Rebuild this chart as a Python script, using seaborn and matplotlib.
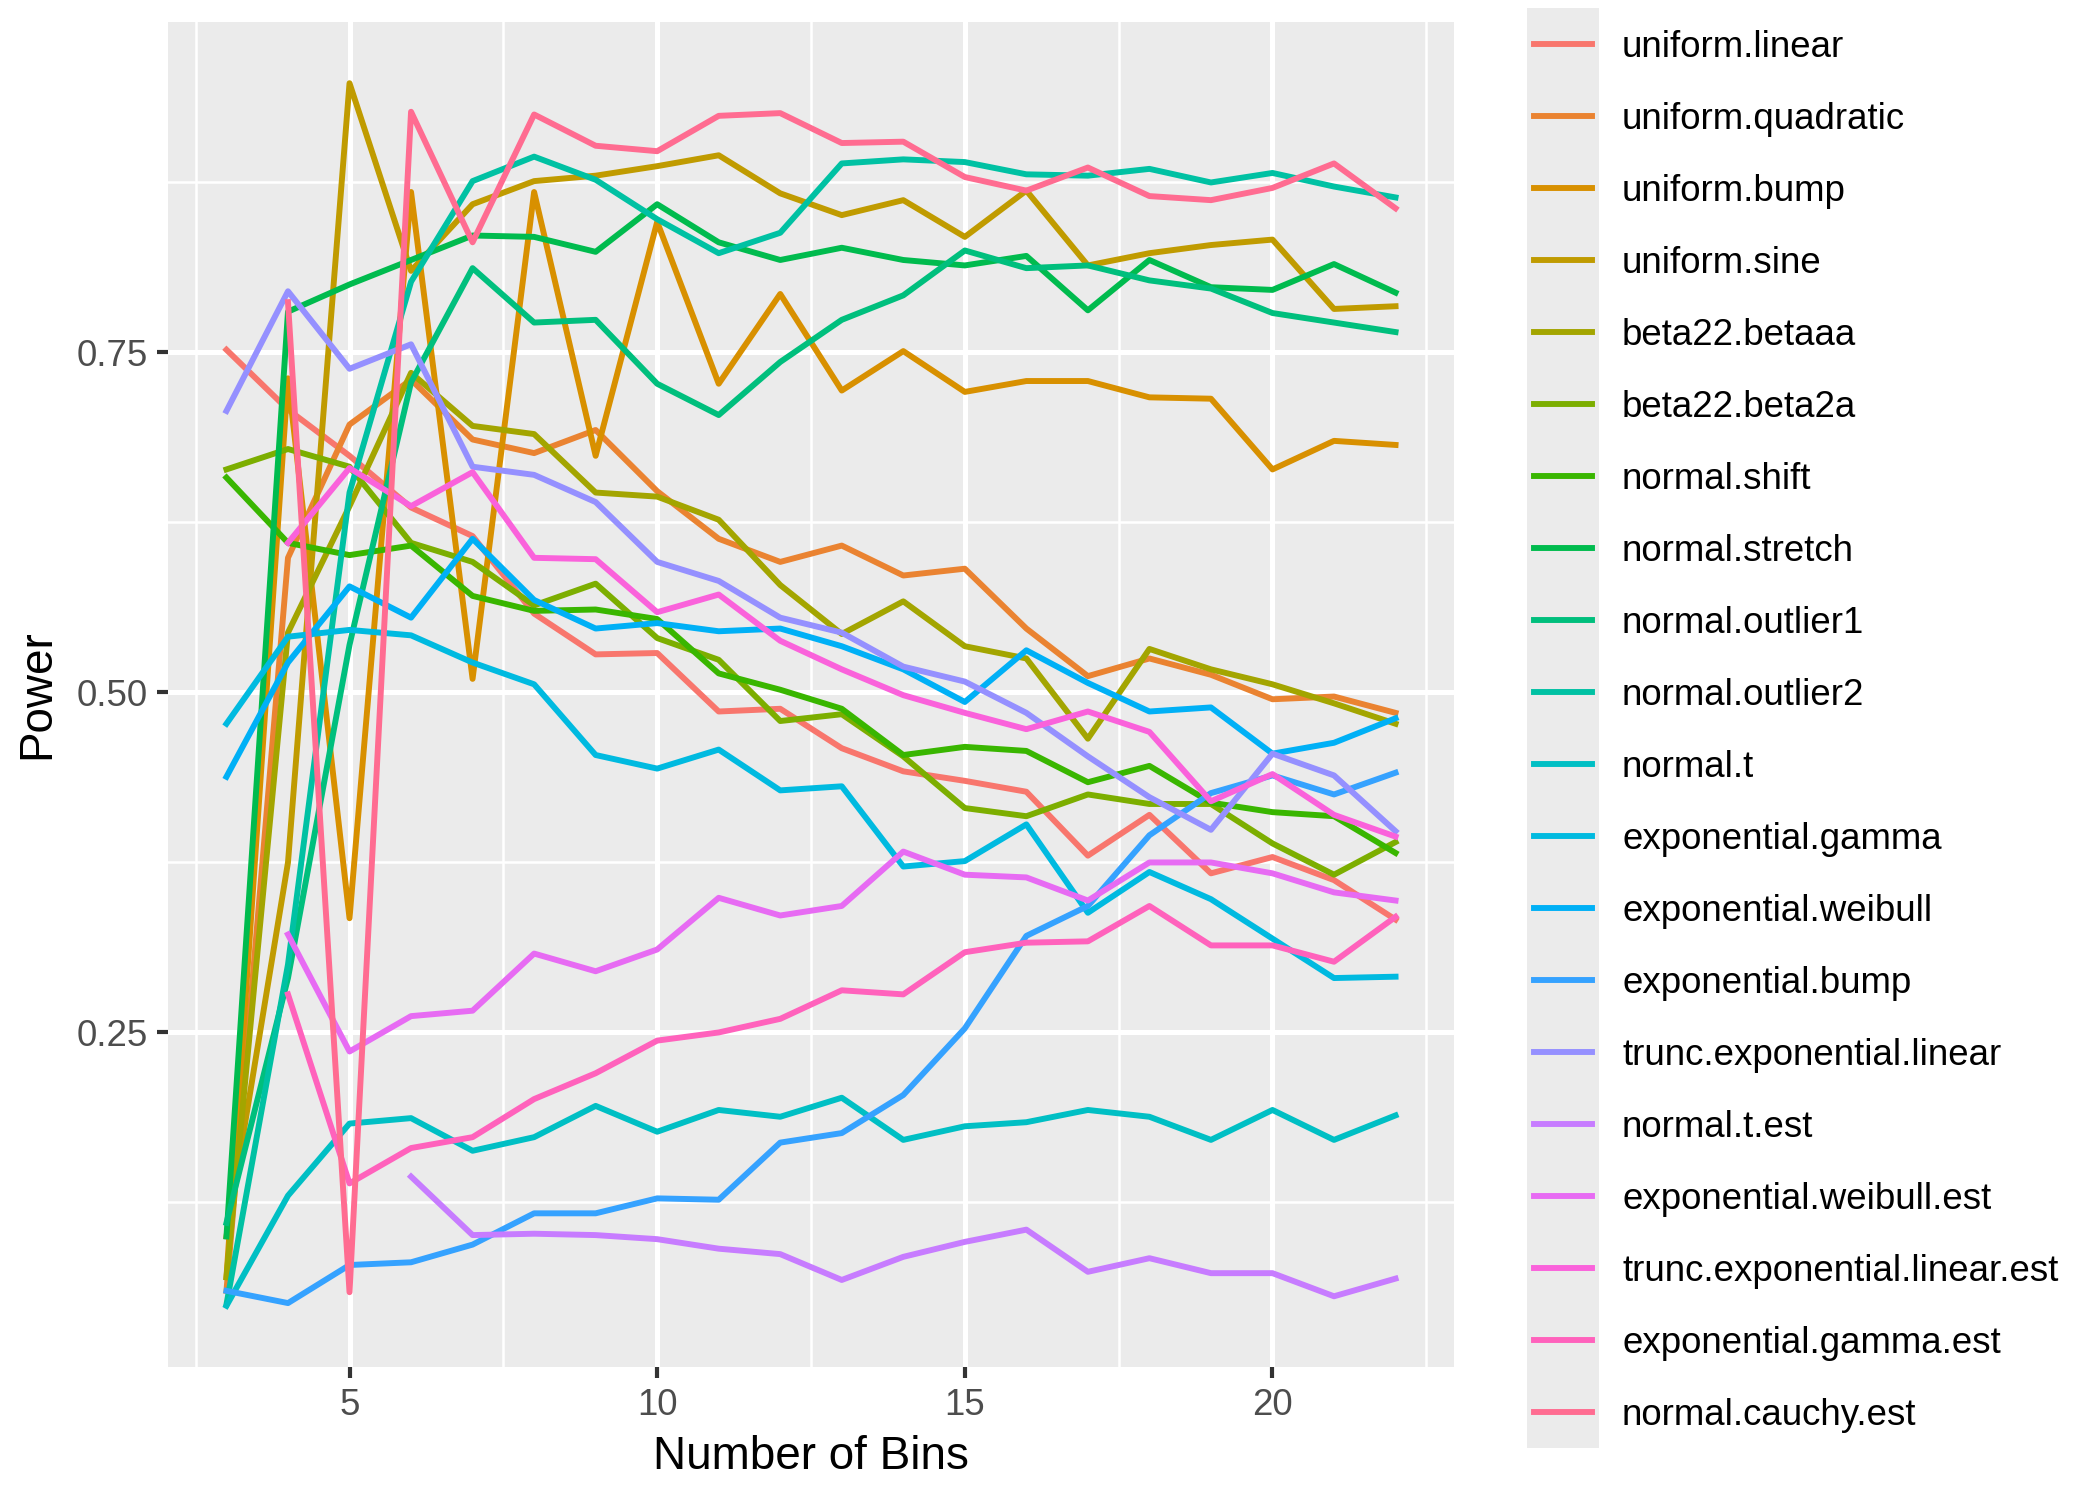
import numpy as np
import pandas as pd
import matplotlib
matplotlib.use("Agg")
import matplotlib.pyplot as plt
from matplotlib.patches import Rectangle
from matplotlib.transforms import IdentityTransform
from matplotlib.ticker import MultipleLocator, FormatStrFormatter
import seaborn as sns

nan = np.nan
bins = list(range(3, 23))

# power values, one list per method (x = 3..22)
uniform_linear = [0.752, 0.708, 0.674, 0.636, 0.615, 0.558, 0.528, 0.529, 0.486, 0.488,
                  0.459, 0.442, 0.435, 0.427, 0.380, 0.410, 0.367, 0.379, 0.362, 0.333]
uniform_quadratic = [0.060, 0.599, 0.697, 0.730, 0.686, 0.676, 0.693, 0.648, 0.613, 0.596,
                     0.608, 0.586, 0.591, 0.547, 0.512, 0.525, 0.513, 0.495, 0.497, 0.485]
uniform_bump = [0.070, 0.731, 0.334, 0.868, 0.510, 0.868, 0.674, 0.846, 0.727, 0.793,
                0.722, 0.751, 0.721, 0.729, 0.729, 0.717, 0.716, 0.664, 0.685, 0.682]
uniform_sine = [0.100, 0.375, 0.948, 0.810, 0.859, 0.876, 0.880, 0.887, 0.895, 0.867,
                0.851, 0.862, 0.835, 0.869, 0.814, 0.823, 0.829, 0.833, 0.782, 0.784]
beta22_betaaa = [0.070, 0.544, 0.637, 0.735, 0.696, 0.690, 0.647, 0.644, 0.627, 0.579,
                 0.543, 0.567, 0.534, 0.525, 0.466, 0.532, 0.517, 0.506, 0.492, 0.477]
beta22_beta2a = [0.664, 0.679, 0.666, 0.610, 0.596, 0.564, 0.580, 0.540, 0.524, 0.479,
                 0.484, 0.453, 0.415, 0.409, 0.425, 0.418, 0.418, 0.389, 0.366, 0.390]
normal_shift = [0.658, 0.610, 0.601, 0.608, 0.571, 0.560, 0.561, 0.554, 0.514, 0.502,
                0.488, 0.454, 0.460, 0.457, 0.434, 0.446, 0.419, 0.412, 0.409, 0.382]
normal_stretch = [0.100, 0.780, 0.800, 0.818, 0.836, 0.835, 0.824, 0.859, 0.831, 0.818,
                  0.827, 0.818, 0.814, 0.821, 0.781, 0.818, 0.798, 0.796, 0.815, 0.794]
normal_outlier1 = [0.110, 0.290, 0.535, 0.728, 0.812, 0.772, 0.774, 0.727, 0.704, 0.743,
                   0.774, 0.792, 0.825, 0.812, 0.814, 0.803, 0.797, 0.779, 0.772, 0.765]
normal_outlier2 = [0.050, 0.300, 0.647, 0.802, 0.876, 0.894, 0.877, 0.848, 0.823, 0.838,
                   0.889, 0.892, 0.890, 0.881, 0.880, 0.885, 0.875, 0.882, 0.872, 0.864]
normal_t = [0.049, 0.130, 0.183, 0.187, 0.163, 0.173, 0.196, 0.177, 0.193, 0.188,
            0.202, 0.171, 0.181, 0.184, 0.193, 0.188, 0.171, 0.193, 0.171, 0.189]
exponential_gamma = [0.477, 0.541, 0.546, 0.542, 0.522, 0.506, 0.454, 0.444, 0.458, 0.428,
                     0.431, 0.372, 0.376, 0.403, 0.338, 0.368, 0.348, 0.319, 0.290, 0.291]
exponential_weibull = [0.438, 0.522, 0.578, 0.555, 0.613, 0.568, 0.547, 0.551, 0.545, 0.547,
                       0.534, 0.517, 0.493, 0.531, 0.507, 0.486, 0.489, 0.455, 0.463, 0.481]
exponential_bump = [0.060, 0.051, 0.079, 0.081, 0.094, 0.117, 0.117, 0.128, 0.127, 0.169,
                    0.176, 0.204, 0.253, 0.321, 0.343, 0.395, 0.426, 0.439, 0.425, 0.441]
trunc_exponential_linear = [0.707, 0.795, 0.738, 0.756, 0.666, 0.660, 0.640, 0.596, 0.582, 0.555,
                            0.544, 0.519, 0.508, 0.485, 0.453, 0.423, 0.399, 0.455, 0.439, 0.398]
normal_t_est = [nan, nan, nan, 0.144, 0.101, 0.102, 0.101, 0.098, 0.091, 0.087,
                0.068, 0.085, 0.096, 0.105, 0.074, 0.084, 0.073, 0.073, 0.056, 0.069]
exponential_weibull_est = [nan, 0.322, 0.236, 0.262, 0.266, 0.308, 0.295, 0.311, 0.349, 0.336,
                           0.343, 0.383, 0.366, 0.364, 0.347, 0.375, 0.375, 0.367, 0.353, 0.347]
trunc_exponential_linear_est = [nan, 0.610, 0.665, 0.637, 0.662, 0.599, 0.598, 0.559, 0.572, 0.538,
                                0.517, 0.498, 0.485, 0.473, 0.486, 0.471, 0.420, 0.440, 0.410, 0.394]
exponential_gamma_est = [nan, 0.278, 0.139, 0.165, 0.173, 0.201, 0.220, 0.244, 0.250, 0.260,
                         0.281, 0.278, 0.309, 0.316, 0.317, 0.343, 0.314, 0.314, 0.302, 0.335]
normal_cauchy_est = [nan, 0.787, 0.059, 0.927, 0.831, 0.925, 0.902, 0.898, 0.924, 0.926,
                     0.904, 0.905, 0.879, 0.869, 0.886, 0.865, 0.862, 0.871, 0.889, 0.856]

methods = ["uniform.linear", "uniform.quadratic", "uniform.bump", "uniform.sine",
           "beta22.betaaa", "beta22.beta2a", "normal.shift", "normal.stretch",
           "normal.outlier1", "normal.outlier2", "normal.t", "exponential.gamma",
           "exponential.weibull", "exponential.bump", "trunc.exponential.linear",
           "normal.t.est", "exponential.weibull.est", "trunc.exponential.linear.est",
           "exponential.gamma.est", "normal.cauchy.est"]
values = [uniform_linear, uniform_quadratic, uniform_bump, uniform_sine,
          beta22_betaaa, beta22_beta2a, normal_shift, normal_stretch,
          normal_outlier1, normal_outlier2, normal_t, exponential_gamma,
          exponential_weibull, exponential_bump, trunc_exponential_linear,
          normal_t_est, exponential_weibull_est, trunc_exponential_linear_est,
          exponential_gamma_est, normal_cauchy_est]

# ggplot2 default hue palette for 20 levels
palette = ["#F8766D", "#EA8331", "#D89000", "#C09B00", "#A3A500", "#7CAE00", "#39B600",
           "#00BB4E", "#00BF7D", "#00C1A3", "#00BFC4", "#00BAE0", "#00B0F6", "#35A2FF",
           "#9590FF", "#C77CFF", "#E76BF3", "#FA62DB", "#FF62BC", "#FF6C91"]

wide = pd.DataFrame(dict(zip(methods, values)))
wide["bins"] = bins
df = wide.melt(id_vars="bins", var_name="method", value_name="power").dropna()

plt.rcParams["font.family"] = ["Liberation Sans", "DejaVu Sans"]

W, H, DPI = 2100, 1499, 300
fig = plt.figure(figsize=(W / DPI, H / DPI), dpi=DPI)
ax = fig.add_axes([168 / W, 1 - 1367 / H, (1454 - 168) / W, (1367 - 22) / H])

sns.lineplot(data=df, x="bins", y="power", hue="method", hue_order=methods,
             palette=palette, linewidth=1.42, errorbar=None, ax=ax)

# ggplot2 grey theme
ax.set_facecolor("#EBEBEB")
for s in ax.spines.values():
    s.set_visible(False)
ax.set_xlim(2.05, 22.95)
ax.set_ylim(0.004, 0.993)
ax.xaxis.set_major_locator(MultipleLocator(5))
ax.xaxis.set_minor_locator(MultipleLocator(2.5))
ax.yaxis.set_major_locator(MultipleLocator(0.25))
ax.yaxis.set_minor_locator(MultipleLocator(0.125))
ax.yaxis.set_major_formatter(FormatStrFormatter("%.2f"))
ax.grid(which="major", color="white", linewidth=1.2)
ax.grid(which="minor", color="white", linewidth=0.6)
ax.set_axisbelow(True)
ax.tick_params(which="major", length=2.75, width=1.0, color="#333333",
               labelsize=8.8, labelcolor="#4D4D4D", pad=2.2)
ax.tick_params(which="minor", length=0)
ax.set_xlabel("Number of Bins", fontsize=11, labelpad=3)
ax.set_ylabel("Power", fontsize=11, labelpad=4)

handles, labels = ax.get_legend_handles_labels()
ax.get_legend().remove()

fs_px = 8.8 / 72 * DPI
pitch = 72.0          # legend row height in px (17.28 pt keys)
key_w = 72.0          # legend key width in px
first_x0, first_cy = 1534.4, H - 44   # left end / centre of the first key line


def key_lines(leg):
    # pixel endpoints of every key line (window extents are padded, so use the data)
    pts = [h.get_transform().transform(h.get_xydata()) for h in leg.legend_handles]
    return [(p[:, 0].min(), p[:, 1].mean()) for p in pts]


def make_legend(spacing, anchor):
    leg = fig.legend(handles, labels, loc="upper left", bbox_to_anchor=anchor,
                     frameon=False, fontsize=8.8, handlelength=57.6 / fs_px,
                     handletextpad=30.1 / fs_px, labelspacing=spacing,
                     borderpad=0, borderaxespad=0)
    for h in leg.legend_handles:
        h.set_linewidth(1.42)
    fig.canvas.draw()
    return leg


anchor = (first_x0 / W, 1 - 20 / H)
spacing = 0.8
for _ in range(3):
    leg = make_legend(spacing, anchor)
    keys = key_lines(leg)
    measured = (keys[0][1] - keys[-1][1]) / (len(keys) - 1)
    spacing += (pitch - measured) / fs_px
    anchor = (anchor[0] + (first_x0 - keys[0][0]) / W,
              anchor[1] + (first_cy - keys[0][1]) / H)
    leg.remove()

leg = make_legend(spacing, anchor)
keys = key_lines(leg)
top_cy, bot_cy = keys[0][1], keys[-1][1]
kx0 = keys[0][0] - 0.1 * key_w
fig.add_artist(Rectangle((kx0, bot_cy - pitch / 2), key_w, top_cy - bot_cy + pitch,
                         facecolor="#EBEBEB", edgecolor="none", zorder=1,
                         transform=IdentityTransform()))

fig.savefig("out.png", dpi=DPI, facecolor="white")
